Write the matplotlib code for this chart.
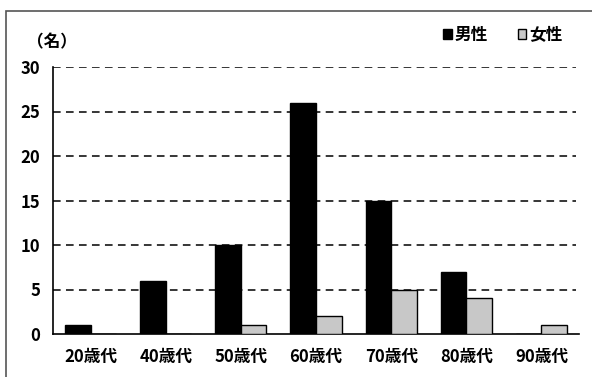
import matplotlib
matplotlib.use("Agg")
import matplotlib.pyplot as plt
from matplotlib.patches import Rectangle, Patch
import numpy as np

plt.rcParams['font.family'] = ['Noto Sans CJK JP', 'DejaVu Sans']

categories = ["20歳代", "40歳代", "50歳代", "60歳代", "70歳代", "80歳代", "90歳代"]
male = [1, 6, 10, 26, 15, 7, 0]
female = [0, 0, 1, 2, 5, 4, 1]
yticks = [0, 5, 10, 15, 20, 25, 30]

W, H = 592, 377
fig = plt.figure(figsize=(W / 100, H / 100), dpi=100)

# outer frame (top and left edges visible)
fig.patches.append(Rectangle((5.5 / W, -0.1), 1.2, (H - 11) / H + 0.1,
                             transform=fig.transFigure, fill=False,
                             edgecolor="#555555", linewidth=1.2))

ax = fig.add_axes([53 / W, (H - 334) / H, (579 - 53) / W, (334 - 67) / H])
x = np.arange(len(categories))
bw = 0.34
ax.bar(x - bw / 2, male, bw, color="black", edgecolor="black", linewidth=1, zorder=3)
ax.bar(x + bw / 2, female, bw, color="#c8c8c8", edgecolor="black", linewidth=1, zorder=3)

ax.set_xlim(-0.5, len(categories) - 0.5)
ax.set_ylim(0, 30)
ax.set_yticks(yticks)
ax.set_yticklabels([str(v) for v in yticks], fontsize=12, fontweight="bold")
ax.set_xticks(x)
ax.set_xticklabels(categories, fontsize=12, fontweight="bold")
ax.tick_params(length=0)
ax.tick_params(axis="y", pad=9)
ax.tick_params(axis="x", pad=10)

for v in yticks[1:]:
    ax.axhline(v, xmin=0, xmax=0.995, color="black", linewidth=1.1,
               linestyle=(0, (5, 3.5)), zorder=1)

for s in ["top", "right"]:
    ax.spines[s].set_visible(False)
for s in ["left", "bottom"]:
    ax.spines[s].set_linewidth(1.2)
    ax.spines[s].set_color("black")

fig.text(27 / W, 1 - 42 / H, "（名）", fontsize=12, fontweight="bold",
         va="center", ha="left")

handles = [Patch(facecolor="black", edgecolor="black", label="男性"),
           Patch(facecolor="#c8c8c8", edgecolor="black", label="女性")]
fig.legend(handles=handles, loc="center right", bbox_to_anchor=(578 / W, 1 - 35 / H),
           ncol=2, frameon=False, handlelength=0.5, handleheight=0.5,
           handletextpad=0.2, columnspacing=1.8, prop={"weight": "bold", "size": 12})

fig.savefig("out.png", dpi=100)
